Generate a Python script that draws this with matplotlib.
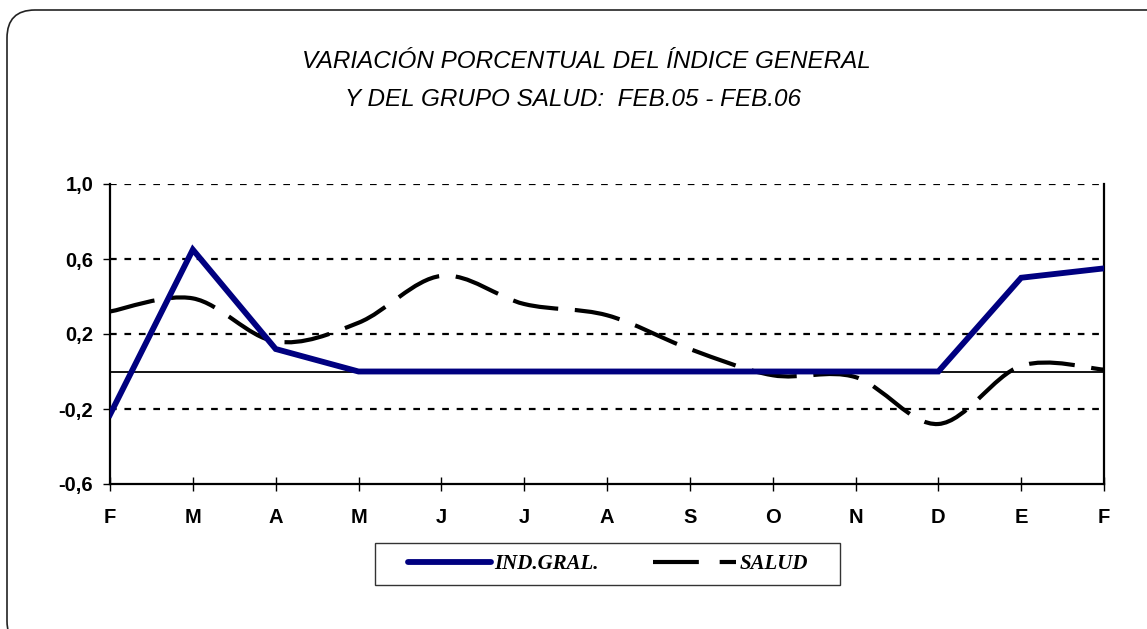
import matplotlib
matplotlib.use('Agg')
import matplotlib.pyplot as plt
from matplotlib.path import Path
from matplotlib.patches import PathPatch, FancyBboxPatch, Rectangle
from matplotlib.lines import Line2D
import numpy as np

## Datos
meses = ['F', 'M', 'A', 'M', 'J', 'J', 'A', 'S', 'O', 'N', 'D', 'E', 'F']
ind_gral = [-0.23, 0.65, 0.12, 0.0, 0.0, 0.0, 0.0, 0.0, 0.0, 0.0, 0.0, 0.50, 0.55]
salud = [0.32, 0.39, 0.16, 0.26, 0.51, 0.36, 0.30, 0.12, -0.02, -0.03, -0.28, 0.03, 0.01]
y_ticks = [-0.6, -0.2, 0.2, 0.6, 1.0]


def curva_suave(xs, ys):
    # curva suavizada tipo Excel (Catmull-Rom -> Bezier)
    p = np.column_stack([xs, ys]).astype(float)
    n = len(p)
    verts = [p[0]]
    codes = [Path.MOVETO]
    for i in range(n - 1):
        p0 = p[i - 1] if i > 0 else p[i]
        p3 = p[i + 2] if i + 2 < n else p[i + 1]
        c1 = p[i] + (p[i + 1] - p0) / 6
        c2 = p[i + 1] - (p3 - p[i]) / 6
        verts += [c1, c2, p[i + 1]]
        codes += [Path.CURVE4] * 3
    return Path(verts, codes)


fig = plt.figure(figsize=(11.47, 6.29), dpi=100)

## marco redondeado
marco = FancyBboxPatch((7, -20), 1170, 629 - 10 + 20, boxstyle='round,pad=0,rounding_size=28',
                       transform=None, facecolor='none', edgecolor='#222222', linewidth=1.2)
fig.add_artist(marco)

ax = fig.add_axes([110 / 1147, 1 - 484 / 629, 994 / 1147, 300 / 629])
x = np.arange(len(meses))

# grilla punteada
for yv in [0.2, 0.6, 1.0, -0.2]:
    ax.axhline(yv, color='black', lw=1.6, linestyle=(0, (3, 3.5)), zorder=1)
ax.axhline(0, color='black', lw=1.3, zorder=1)

# SALUD (línea suavizada)
trazo = curva_suave(x, salud)
ax.add_patch(PathPatch(trazo, facecolor='none', edgecolor='black', lw=3,
                       linestyle=(0, (11, 4)), capstyle='butt', zorder=2))

ax.plot(x, ind_gral, color='#000080', lw=4.2, solid_joinstyle='miter', zorder=3)

ax.set_xlim(0, 12)
ax.set_ylim(-0.6, 1.0)
ax.set_xticks(x)
ax.set_xticklabels(meses)
ax.set_yticks(y_ticks)
ax.set_yticklabels([f'{v:.1f}'.replace('.', ',') for v in y_ticks])
ax.tick_params(axis='x', direction='inout', length=10, width=1, pad=12, labelsize=14.5)
ax.tick_params(axis='y', direction='out', length=5, width=1, pad=7, labelsize=14.5)
for lbl in ax.get_xticklabels() + ax.get_yticklabels():
    lbl.set_fontfamily('Liberation Sans')
    lbl.set_fontweight('bold')
ax.spines['top'].set_visible(False)
for s in ['left', 'bottom', 'right']:
    ax.spines[s].set_linewidth(1.6)

## título
fig.text(586 / 1147, 1 - 62 / 629, 'VARIACIÓN PORCENTUAL DEL ÍNDICE GENERAL',
         ha='center', va='center', fontsize=17.5, style='italic', family='Liberation Sans')
fig.text(573 / 1147, 1 - 100 / 629, 'Y DEL GRUPO SALUD:  FEB.05 - FEB.06',
         ha='center', va='center', fontsize=17.5, style='italic', family='Liberation Sans')

## leyenda (caja dibujada aparte)
fig.add_artist(Rectangle((375, 629 - 585), 465, 42, transform=None, facecolor='white',
                         edgecolor='#333333', linewidth=1.0, zorder=4))
h1 = Line2D([], [], color='#000080', lw=4.2, solid_capstyle='round')
h2 = Line2D([], [], color='black', lw=3, linestyle=(0, (11, 5)))
leg = fig.legend([h1, h2], ['IND.GRAL.', 'SALUD'], ncol=2, loc='center',
                 bbox_to_anchor=(608 / 1147, 1 - 564 / 629), frameon=False,
                 handlelength=4.0, columnspacing=2.6, handletextpad=0.15,
                 prop={'family': 'Liberation Serif', 'style': 'italic', 'weight': 'bold', 'size': 15})
leg.set_zorder(5)

fig.savefig('out.png', dpi=100)
